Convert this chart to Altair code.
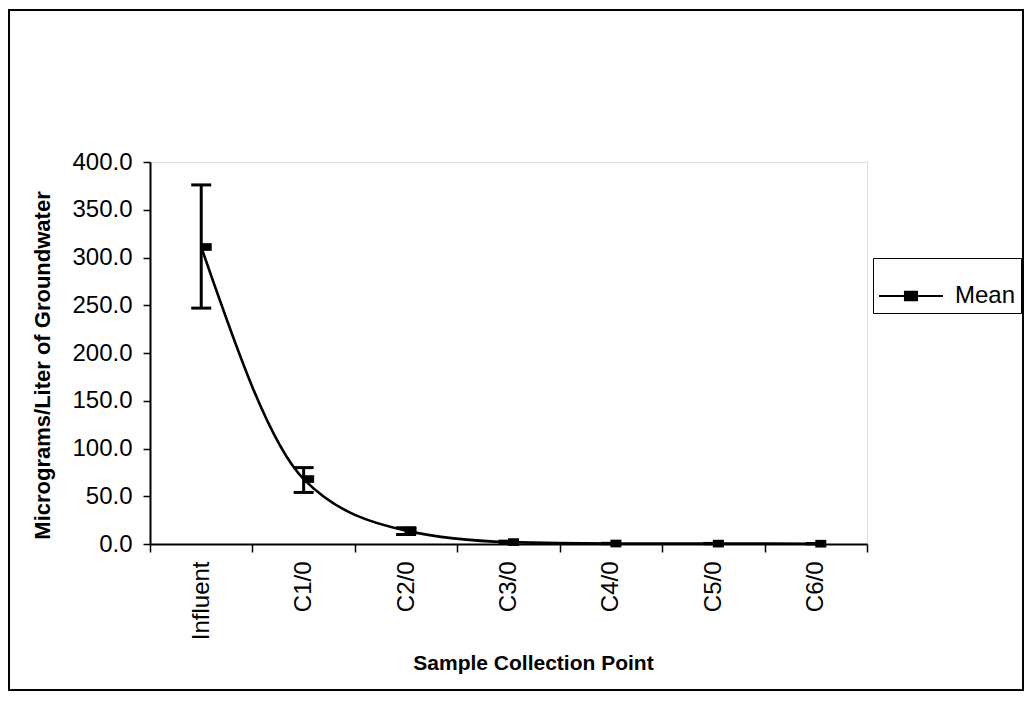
import altair as alt
import pandas as pd

categories = ["Influent", "C1/0", "C2/0", "C3/0", "C4/0", "C5/0", "C6/0"]
means = [311.0, 68.0, 14.0, 2.0, 0.5, 0.4, 0.3]
lower = [247.0, 54.0, 10.0, 1.0, 0.3, 0.2, 0.1]
upper = [376.0, 80.0, 17.0, 3.0, 0.7, 0.6, 0.5]
series = ["Mean"] * len(categories)
y_ticks = [0, 50, 100, 150, 200, 250, 300, 350, 400]

df = pd.DataFrame({"point": categories, "mean": means, "lower": lower,
                   "upper": upper, "series": series})

FONT = "Liberation Sans"
W, H = 717, 382

x_enc = alt.X("point:N", sort=categories,
              scale=alt.Scale(paddingInner=0, paddingOuter=0),
              axis=alt.Axis(title="Sample Collection Point", labelAngle=-90,
                            tickBand="extent", labelFontSize=24, labelPadding=9,
                            tickSize=8, tickWidth=1.5, tickColor="black",
                            domainColor="black", domainWidth=2,
                            labelColor="black", titleColor="black",
                            titleFontSize=21, titleFontWeight="bold",
                            titleX=383, titleY=119, titleBaseline="middle",
                            labelFont=FONT, titleFont=FONT, grid=False))

y_scale = alt.Scale(domain=[0, 400], nice=False)
y_axis = alt.Axis(title="Micrograms/Liter of Groundwater", values=y_ticks,
                  format=".1f", labelFontSize=24, labelPadding=11, tickSize=7,
                  tickWidth=1.5, tickColor="black", domainColor="black",
                  domainWidth=2, labelColor="black", titleColor="black",
                  titleFontSize=22, titleFontWeight="bold", titleX=-108,
                  titleY=203, titleBaseline="middle", titleAlign="center",
                  labelFont=FONT, titleFont=FONT, grid=False)

base = alt.Chart(df)

legend_shape = "M-1,0L1,0M-0.19,-0.13L0.19,-0.13L0.19,0.13L-0.19,0.13Z"

line = base.mark_line(interpolate="monotone", strokeWidth=2.6).encode(
    x=x_enc,
    y=alt.Y("mean:Q", scale=y_scale, axis=y_axis),
    color=alt.Color("series:N", scale=alt.Scale(range=["black"]),
                    legend=alt.Legend(title=None, orient="none", legendX=723,
                                      legendY=96, strokeColor="black",
                                      padding=5, symbolType=legend_shape,
                                      symbolSize=4096, symbolStrokeWidth=2,
                                      symbolFillColor="black",
                                      symbolStrokeColor="black",
                                      labelFontSize=24, labelFont=FONT,
                                      labelColor="black", labelOffset=11)),
)

rules = base.mark_rule(strokeWidth=3, color="black").encode(
    x=alt.X("point:N", sort=categories), y="lower:Q", y2="upper:Q")
cap_lo = base.mark_tick(thickness=3, size=20, color="black", opacity=1).encode(
    x=alt.X("point:N", sort=categories), y="lower:Q")
cap_hi = base.mark_tick(thickness=3, size=20, color="black", opacity=1).encode(
    x=alt.X("point:N", sort=categories), y="upper:Q")

marker_shape = "M-1,-0.7L1,-0.7L1,0.7L-1,0.7Z"
points = base.mark_point(shape=marker_shape, filled=True, size=121,
                         color="black", opacity=1, xOffset=5).encode(
    x=alt.X("point:N", sort=categories), y="mean:Q")

frame = alt.Chart(pd.DataFrame({"f": [0]})).mark_rect(
    filled=False, stroke="black", strokeWidth=2).encode(
    x=alt.value(-141), x2=alt.value(873), y=alt.value(-152), y2=alt.value(528))

chart = alt.layer(frame, line, rules, cap_lo, cap_hi, points).properties(
    width=W, height=H,
    autosize=alt.AutoSizeParams(type="none"),
    padding={"left": 142, "top": 154, "right": 158, "bottom": 148},
).configure_view(stroke="black", strokeWidth=2).configure(font=FONT)

chart.save("out.html", embed_options={"renderer": "svg", "actions": False})
